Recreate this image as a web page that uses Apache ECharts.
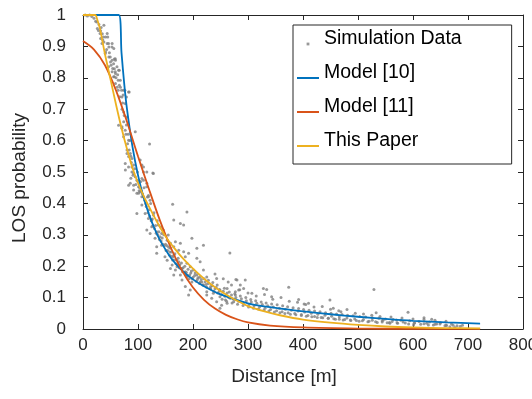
<!DOCTYPE html>
<html>
<head>
<meta charset="utf-8">
<script src="https://cdn.jsdelivr.net/npm/echarts@6.0.0/dist/echarts.min.js"></script>
<style>
html, body { margin: 0; padding: 0; background: #fff; }
#los { width: 532px; height: 399px; }
</style>
</head>
<body>
<div id="los"></div>
<script>
// distance [m] / LOS probability
var simPoints = [
  [4,1],[8,0.997],[12,1],[16,0.995],[20,0.99],[23,0.98],[25,0.978],[26,0.957],[28,0.951],[31,0.941],[32,0.95],[32,0.925],
  [34.5,0.909],[35,0.94],[37,0.93],[38,0.967],[38,0.914],[40.5,0.877],[41,0.93],[41,0.882],[44,0.941],[44,0.909],[46.5,0.909],
  [46.5,0.835],[47,0.898],[47,0.866],[49.6,0.866],[51,0.84],[52.7,0.898],[53,0.909],[53,0.856],[53,0.819],[55.6,0.845],
  [55.6,0.803],[56,0.893],[57,0.829],[57,0.803],[58.7,0.861],[58.7,0.819],[59,0.856],[59,0.814],[59,0.782],[61.8,0.835],
  [64,0.792],[64,0.76],[64.7,0.824],[64.7,0.649],[66,0.824],[66,0.776],[67.8,0.792],[70,0.76],[70.8,0.739],[70.8,0.644],
  [70.8,0.639],[73,0.745],[73.8,0.76],[73.8,0.691],[73.8,0.612],[76,0.76],[76.8,0.718],[76.8,0.633],[76.8,0.527],[77,0.506],
  [79,0.739],[79.9,0.675],[80,0.57],[80,0.559],[82.8,0.755],[82.8,0.601],[83,0.549],[82.8,0.516],[83,0.458],[84,0.755],
  [86,0.559],[86,0.464],[87,0.48],[89,0.516],[89,0.543],[89,0.5],[92,0.495],[92,0.443],[92,0.522],[92,0.458],[95,0.628],
  [95,0.485],[98,0.474],[98,0.432],[98,0.368],[101,0.432],[101,0.453],[104,0.538],[104,0.437],[107,0.421],[107,0.522],
  [107,0.479],[107,0.395],[110,0.516],[110,0.474],[110,0.5],[110,0.421],[113,0.368],[116,0.453],[116,0.5],[116,0.464],
  [116,0.315],[119,0.425],[119,0.421],[119,0.352],[121,0.589],[122,0.41],[122,0.304],[125,0.347],[125,0.326],[127,0.497],
  [128,0.495],[128,0.363],[131,0.289],[134,0.31],[134,0.262],[134,0.241],[137,0.331],[140,0.294],[143,0.267],[143,0.304],
  [146,0.315],[149,0.23],[153,0.283],[153,0.219],[155,0.299],[159,0.257],[159,0.193],[159,0.273],[162,0.204],[163,0.397],
  [165,0.347],[165,0.262],[165,0.235],[165,0.172],[168,0.188],[168,0.278],[171,0.198],[174,0.251],[174,0.214],[177,0.336],
  [177,0.273],[177,0.172],[180,0.193],[180,0.156],[183,0.331],[183,0.246],[186,0.23],[186,0.182],[186,0.135],[189,0.373],
  [189,0.209],[189,0.166],[192,0.241],[192,0.108],[195,0.198],[195,0.124],[198,0.289],[198,0.15],[201,0.188],[207,0.257],
  [207,0.225],[207,0.172],[213,0.214],[213,0.15],[219,0.267],[219,0.188],[219,0.14],[225,0.166],[225,0.119],[225,0.108],
  [231,0.129],[234,0.098],[237,0.114],[243,0.161],[243,0.087],[249,0.124],[249,0.103],[249,0.066],[252,0.076],[259,0.092],
  [262,0.129],[262,0.082],[264,0.15],[267,0.242],[268,0.098],[274,0.087],[277,0.108],[277,0.119],[278,0.158],[280,0.156],
  [283,0.124],[286,0.14],[292,0.129],[295,0.156],[307,0.114],[328,0.129],[334,0.126],[343,0.103],[374,0.133],[392,0.094],
  [402,0.08],[410,0.082],[449,0.092],[455,0.066],[469,0.055],[529,0.126],[533,0.052],[546,0.029],[558,0.018],[570,0.029],
  [591,0.053],[620,0.036],[634,0.031],
  [100,0.47],[103,0.45],[106,0.44],[112,0.41],[115,0.39],[118,0.37],[121,0.36],[124,0.345],[127,0.33],[130,0.32],
  [133,0.305],[136,0.3],[139,0.285],[142,0.28],[145,0.27],[148,0.265],[151,0.25],[154,0.25],[157,0.236],[160,0.232],
  [163,0.22],[166,0.22],[169,0.208],[172,0.205],[175,0.195],[178,0.193],[181,0.182],[184,0.18],[187,0.172],[190,0.17],
  [193,0.16],[196,0.178],[199,0.16],[203,0.17],[206,0.152],[209,0.163],[212,0.145],[215,0.158],[218,0.14],[222,0.15],
  [225,0.133],[228,0.145],[232,0.128],[235,0.138],[238,0.12],[242,0.132],[245,0.115],[248,0.126],[252,0.11],[255,0.12],
  [258,0.104],[262,0.115],[265,0.1],[270,0.108],[274,0.095],[278,0.1],[283,0.088],[288,0.096],[292,0.083],[297,0.09],
  [302,0.078],[306,0.086],[311,0.074],[316,0.082],[321,0.07],[326,0.078],[331,0.066],[336,0.074],[341,0.062],[346,0.07],
  [352,0.058],[357,0.066],[362,0.055],[368,0.063],[373,0.052],[379,0.06],[385,0.049],[391,0.057],[397,0.046],[403,0.054],
  [409,0.043],[415,0.05],[421,0.04],[427,0.047],[433,0.037],[440,0.044],[446,0.034],[452,0.041],[459,0.031],[466,0.038],
  [473,0.029],[480,0.035],[487,0.027],[494,0.032],[502,0.025],[510,0.03],[518,0.023],[526,0.028],[535,0.021],[544,0.026],
  [553,0.02],[562,0.024],[572,0.018],[582,0.022],[592,0.016],[603,0.02],[614,0.015],[625,0.018],[637,0.013],[649,0.016],
  [661,0.011],[673,0.012],[686,0.009],[601,0.013],[628,0.013],[643,0.016],[658,0.01],[667,0.007],[676,0.005],
  [240,0.175],[255,0.16],[270,0.14],[285,0.125],[300,0.115],[315,0.105],[330,0.11],[345,0.095],[360,0.1],[375,0.088],
  [390,0.085],[405,0.078],[420,0.07],[435,0.072],[450,0.063],[465,0.058],[480,0.062],[495,0.05],[510,0.048],[525,0.044],
  [540,0.04],[560,0.038],[580,0.035],[600,0.032],[620,0.03],[640,0.028],[660,0.025],
  [253,0.095],[257,0.13],[261,0.088],[266,0.118],[271,0.083],[276,0.112],[281,0.079],[286,0.105],[291,0.075],[296,0.1],
  [301,0.07],[305,0.094],[310,0.066],[314,0.09],[319,0.064],[324,0.086],[329,0.06],[333,0.083],[338,0.057],[343,0.08],
  [348,0.054],[353,0.077],[358,0.052],[363,0.074],[367,0.049],[372,0.071],[377,0.047],[382,0.068],[387,0.045],[392,0.065],
  [397,0.043],[401,0.062],[406,0.041],[411,0.06],[416,0.039],[421,0.057],[426,0.037],[431,0.055],[436,0.036],[441,0.052],
  [446,0.034],[451,0.05],[456,0.033],[461,0.048],[466,0.031],[471,0.046],[476,0.03],[481,0.044],[486,0.029],[491,0.042],
  [497,0.027],[503,0.04],[508,0.026],[514,0.038],[520,0.025],[526,0.036],[532,0.023],[538,0.034],[544,0.022],[550,0.032],
  [557,0.021],[564,0.03],[571,0.02],[578,0.028],[586,0.019],[594,0.026],[602,0.018],[611,0.024],[620,0.017],[630,0.022],
  [640,0.015],[650,0.02],[660,0.013],[670,0.016],[680,0.01],[690,0.012],
  [88,0.53],[91,0.49],[94,0.51],[96,0.46],[99,0.5],[102,0.44],[105,0.47],[108,0.43],[111,0.45],[114,0.4],[117,0.42],
  [120,0.38],[123,0.4],[126,0.35],[129,0.37],[132,0.33],[135,0.345],[138,0.31],[141,0.325],[144,0.29],[147,0.3],
  [150,0.27],[153,0.265],[156,0.26],[158,0.245],[161,0.245],[164,0.23],[167,0.24],[170,0.22],[173,0.225],[176,0.205],
  [179,0.21],[182,0.195],[185,0.2],[188,0.18],[191,0.19],[194,0.172],[197,0.185],[200,0.165],[204,0.178],[208,0.158],
  [212,0.165],[216,0.15],[220,0.16],[224,0.142],[228,0.155],[232,0.135],[236,0.148],[240,0.128],[244,0.14],[248,0.12],
  [29,0.97],[33,0.96],[36,0.92],[43,0.89],[45,0.93],[48,0.88],[50,0.85],[54,0.83],[57,0.86],[60,0.8],[62,0.77],
  [63,0.81],[67,0.74],[68,0.77],[71,0.7],[72,0.72],[74,0.66],[75,0.68],[78,0.62],[79,0.65],[81,0.59],[82,0.62],
  [84,0.57],[85,0.6],[87,0.55]
];

var model10 = [
  [0,1],[65,1],[70,0.88],[75,0.78],[80,0.7],[90,0.58],[100,0.49],[110,0.42],[120,0.365],[130,0.32],[140,0.283],
  [160,0.226],[180,0.187],[200,0.158],[220,0.136],[250,0.11],[300,0.082],[350,0.067],[400,0.056],[450,0.047],
  [500,0.039],[550,0.032],[600,0.026],[660,0.021],[722,0.017]
];

var model11 = [
  [0,0.917],[20,0.89],[40,0.84],[60,0.76],[80,0.66],[100,0.55],[120,0.445],[140,0.345],[160,0.258],[180,0.186],
  [200,0.132],[220,0.093],[240,0.065],[260,0.045],[280,0.031],[300,0.021],[340,0.011],[400,0.005],[500,0.0015],
  [600,0.0005],[722,0.0002]
];

var thisPaper = [
  [0,1],[22,1],[26,0.985],[31,0.955],[40,0.875],[50,0.795],[60,0.715],[70,0.64],[80,0.573],[90,0.513],[100,0.465],
  [110,0.425],[120,0.39],[135,0.34],[150,0.295],[165,0.26],[180,0.228],[200,0.192],[220,0.16],[240,0.133],[260,0.11],
  [280,0.09],[300,0.073],[330,0.056],[360,0.043],[400,0.03],[450,0.02],[500,0.013],[550,0.008],[600,0.005],
  [660,0.003],[722,0.002]
];

var seriesNames = ['Simulation Data', 'Model [10]', 'Model [11]', 'This Paper'];

var font = "'Liberation Sans', Arial, sans-serif";
var axisColor = '#262626';
// legend keys: short line / dot sitting a little below the text centre, like the MATLAB legend
var lineIcon = 'path://M0,0M22,20M0,14h22v2h-22z';
var dotIcon = 'path://M0,0M22,20M9.6,13.6h2.8v2.8h-2.8z';

var chart = echarts.init(document.getElementById('los'));

function frameAxis(pos, showLabel) {
  return {
    type: 'value',
    position: pos,
    axisLine: { show: true, onZero: false, lineStyle: { color: axisColor, width: 1 } },
    axisTick: { show: true, inside: true, length: 5, lineStyle: { color: axisColor } },
    axisLabel: { show: showLabel, color: axisColor, fontFamily: font, fontSize: 17 },
    splitLine: { show: false }
  };
}

var xBottom = frameAxis('bottom', true);
xBottom.min = 0; xBottom.max = 800; xBottom.interval = 100;
xBottom.axisLabel.margin = 8;
xBottom.name = 'Distance [m]';
xBottom.nameLocation = 'middle';
xBottom.nameGap = 38;
xBottom.nameTextStyle = { color: axisColor, fontFamily: font, fontSize: 19, padding: [0, 38, 0, 0] };

var xTop = frameAxis('top', false);
xTop.min = 0; xTop.max = 800; xTop.interval = 100;

var yLeft = frameAxis('left', true);
yLeft.min = 0; yLeft.max = 1; yLeft.interval = 0.1;
yLeft.axisLabel.margin = 17;
yLeft.name = 'LOS probability';
yLeft.nameLocation = 'middle';
yLeft.nameGap = 54;
yLeft.nameTextStyle = { color: axisColor, fontFamily: font, fontSize: 19, padding: [0, 12, 0, 0] };

var yRight = frameAxis('right', false);
yRight.min = 0; yRight.max = 1; yRight.interval = 0.1;

function curve(name, data, color) {
  return {
    name: name,
    type: 'line',
    data: data,
    showSymbol: false,
    symbol: 'none',
    smooth: 0.3,
    lineStyle: { color: color, width: 1.8 },
    itemStyle: { color: color },
    animation: false
  };
}

var option = {
  backgroundColor: '#fff',
  animation: false,
  grid: { left: 83, right: 9, top: 15, bottom: 70, outerBoundsMode: 'none' },
  xAxis: [xBottom, xTop],
  yAxis: [yLeft, yRight],
  legend: {
    orient: 'vertical',
    left: 293,
    top: 25,
    itemWidth: 22,
    itemHeight: 20,
    itemGap: 14,
    padding: [4, 50, 13, 4],
    borderColor: axisColor,
    borderWidth: 1,
    borderRadius: 0,
    backgroundColor: '#fff',
    selectedMode: false,
    textStyle: { color: '#000', fontFamily: font, fontSize: 19.5 },
    data: [
      { name: seriesNames[0], icon: dotIcon },
      { name: seriesNames[1], icon: lineIcon },
      { name: seriesNames[2], icon: lineIcon },
      { name: seriesNames[3], icon: lineIcon }
    ]
  },
  series: [
    {
      name: seriesNames[0],
      type: 'scatter',
      data: simPoints,
      symbol: 'circle',
      symbolSize: 3,
      itemStyle: { color: '#7f7f7f' },
      animation: false
    },
    curve(seriesNames[1], model10, '#0072BD'),
    curve(seriesNames[2], model11, '#D95319'),
    curve(seriesNames[3], thisPaper, '#EDB120')
  ]
};

chart.setOption(option);
</script>
</body>
</html>
